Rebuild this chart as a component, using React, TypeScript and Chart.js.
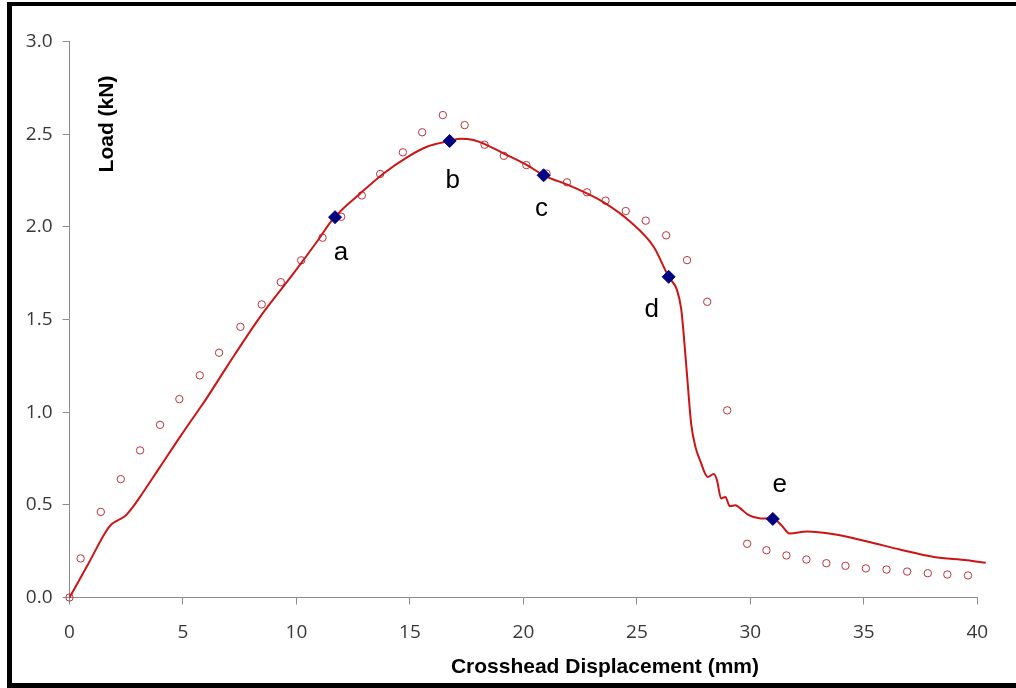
import React, { useEffect, useRef } from "react";
import { Chart, registerables } from "chart.js";

Chart.register(...registerables);

// Open circles (predicted / second series)
const circleX = [0, 0.49, 1.38, 2.26, 3.11, 3.99, 4.84, 5.74, 6.59, 7.53, 8.47, 9.31, 10.21, 11.15, 11.97, 12.88, 13.69, 14.69, 15.54, 16.45, 17.41, 18.29, 19.14, 20.13, 21.02, 21.92, 22.8, 23.62, 24.51, 25.39, 26.29, 27.21, 28.1, 28.98, 29.86, 30.71, 31.59, 32.47, 33.35, 34.19, 35.09, 36.0, 36.91, 37.82, 38.68, 39.59];
const circleY = [0, 0.211, 0.462, 0.639, 0.794, 0.932, 1.071, 1.199, 1.321, 1.461, 1.582, 1.702, 1.82, 1.942, 2.055, 2.17, 2.286, 2.403, 2.511, 2.604, 2.55, 2.444, 2.384, 2.334, 2.288, 2.241, 2.187, 2.142, 2.086, 2.034, 1.955, 1.821, 1.596, 1.01, 0.29, 0.255, 0.227, 0.205, 0.185, 0.171, 0.157, 0.151, 0.14, 0.131, 0.124, 0.119];

// Measured load-displacement curve
const curveX = [0, 0.8, 1.6, 1.85, 2.1, 2.45, 2.8, 3.2, 3.99, 4.87, 5.68, 6.04, 6.93, 8.4, 9.87, 10.9, 11.63, 12.81, 13.84, 14.87, 15.75, 16.75, 17.22, 17.8, 18.39, 19.28, 20.16, 20.89, 22.06, 23.54, 24.71, 25.74, 26.4, 26.77, 26.95, 27.06, 27.24, 27.39, 27.58, 27.8, 28.12, 28.39, 28.53, 28.71, 28.9, 29.09, 29.34, 29.56, 29.93, 30.45, 30.99, 31.37, 31.73, 32.5, 33.68, 35.15, 36.62, 38.09, 39.56, 40.37];
const curveY = [0, 0.175, 0.355, 0.395, 0.415, 0.44, 0.49, 0.56, 0.705, 0.867, 1.011, 1.075, 1.245, 1.515, 1.749, 1.92, 2.046, 2.181, 2.289, 2.376, 2.433, 2.464, 2.476, 2.469, 2.442, 2.388, 2.334, 2.279, 2.222, 2.133, 2.028, 1.893, 1.731, 1.659, 1.56, 1.425, 1.155, 0.94, 0.813, 0.735, 0.651, 0.666, 0.633, 0.535, 0.543, 0.493, 0.498, 0.481, 0.444, 0.427, 0.426, 0.39, 0.346, 0.356, 0.341, 0.302, 0.258, 0.219, 0.201, 0.187];

// Marked stages a-e
const stageNames = ["a", "b", "c", "d", "e"];
const stageX = [11.7, 16.75, 20.89, 26.4, 30.99];
const stageY = [2.053, 2.464, 2.279, 1.731, 0.424];

// Tick values
const xTickValues = [0, 5, 10, 15, 20, 25, 30, 35, 40];
const yTickValues = [0, 0.5, 1.0, 1.5, 2.0, 2.5, 3.0];

const xTitle = "Crosshead Displacement (mm)";
const yTitle = "Load (kN)";

// label offsets (pixels) relative to each stage marker: [dx, baseline dy]
const stageLabelOffsets = [
  [6, 43],
  [3, 47],
  [-2, 41],
  [-17, 40],
  [7, -27],
];

const overlayPlugin = {
  id: "overlayText",
  afterDatasetsDraw(chart: any) {
    const { ctx, scales } = chart;
    const xs = scales.x;
    const ys = scales.y;
    ctx.save();
    ctx.fillStyle = "#000";
    ctx.font = '26px "Liberation Sans", Arial, sans-serif';
    ctx.textAlign = "center";
    ctx.textBaseline = "alphabetic";
    stageNames.forEach((n, i) => {
      const px = xs.getPixelForValue(stageX[i]) + stageLabelOffsets[i][0];
      const py = ys.getPixelForValue(stageY[i]) + stageLabelOffsets[i][1];
      ctx.fillText(n, px, py);
    });
    // axis titles
    ctx.font = 'bold 21px "Liberation Sans", Arial, sans-serif';
    ctx.textAlign = "right";
    ctx.fillText(xTitle, 759, 673);
    ctx.save();
    ctx.translate(113, 124);
    ctx.rotate(-Math.PI / 2);
    ctx.textAlign = "center";
    ctx.fillText(yTitle, 0, 0);
    ctx.restore();
    ctx.restore();
  },
};

export default function App() {
  const ref = useRef<HTMLCanvasElement | null>(null);
  useEffect(() => {
    if (!ref.current) return;
    const chart = new Chart(ref.current, {
      type: "scatter",
      data: {
        datasets: [
          {
            label: "Stages",
            data: stageX.map((x, i) => ({ x, y: stageY[i] })),
            pointStyle: "rectRot",
            pointRadius: 6.5,
            pointBackgroundColor: "#000080",
            pointBorderColor: "#000080",
            pointBorderWidth: 1,
            showLine: false,
            clip: false,
          } as any,
          {
            label: "Experiment",
            data: curveX.map((x, i) => ({ x, y: curveY[i] })),
            showLine: true,
            borderColor: "#cc1414",
            borderWidth: 2,
            pointRadius: 0,
            cubicInterpolationMode: "monotone",
            clip: false,
          } as any,
          {
            label: "Model",
            data: circleX.map((x, i) => ({ x, y: circleY[i] })),
            pointStyle: "circle",
            pointRadius: 3.7,
            pointBackgroundColor: "rgba(255,255,255,0)",
            pointBorderColor: "#b8323f",
            pointBorderWidth: 1,
            showLine: false,
            clip: false,
          } as any,
        ],
      },
      options: {
        animation: false,
        responsive: false,
        devicePixelRatio: 1,
        layout: { padding: { left: 0, right: 38.7, top: 41.7, bottom: 0 } },
        plugins: {
          legend: { display: false },
          tooltip: { enabled: false },
        },
        scales: {
          x: {
            type: "linear",
            min: 0,
            max: 40,
            afterBuildTicks: (s: any) => {
              s.ticks = xTickValues.map((v) => ({ value: v }));
            },
            afterFit: (s: any) => {
              s.height = 688 - 597.5;
            },
            grid: {
              drawOnChartArea: false,
              drawTicks: true,
              tickLength: 7,
              color: "#8c8c8c",
            },
            border: { color: "#8c8c8c", width: 1 },
            ticks: {
              padding: 17,
              color: "#383838",
              font: { family: '"Open Sans", sans-serif', size: 19 },
              callback: (v: any) => String(v),
              maxRotation: 0,
              autoSkip: false,
            },
          },
          y: {
            type: "linear",
            min: 0,
            max: 3,
            afterBuildTicks: (s: any) => {
              s.ticks = yTickValues.map((v) => ({ value: v }));
            },
            afterFit: (s: any) => {
              s.width = 69.5;
            },
            grid: {
              drawOnChartArea: false,
              drawTicks: true,
              tickLength: 7,
              color: "#8c8c8c",
            },
            border: { color: "#8c8c8c", width: 1 },
            ticks: {
              padding: 10,
              color: "#383838",
              font: { family: '"Open Sans", sans-serif', size: 19 },
              callback: (v: any) => Number(v).toFixed(1),
              autoSkip: false,
            },
          },
        },
      },
      plugins: [overlayPlugin],
    });
    return () => chart.destroy();
  }, []);

  return (
    <div style={{ position: "fixed", left: 0, top: 0, width: 1016, height: 688, background: "#fff", overflow: "hidden" }}>
      <canvas ref={ref} width={1016} height={688} style={{ position: "absolute", left: 0, top: 0, width: 1016, height: 688 }} />
      <div
        style={{
          position: "absolute",
          left: 7,
          top: 2,
          right: -20,
          bottom: 0,
          border: "5px solid #000",
          borderTopWidth: 4,
          boxSizing: "border-box",
          pointerEvents: "none",
        }}
      />
    </div>
  );
}
